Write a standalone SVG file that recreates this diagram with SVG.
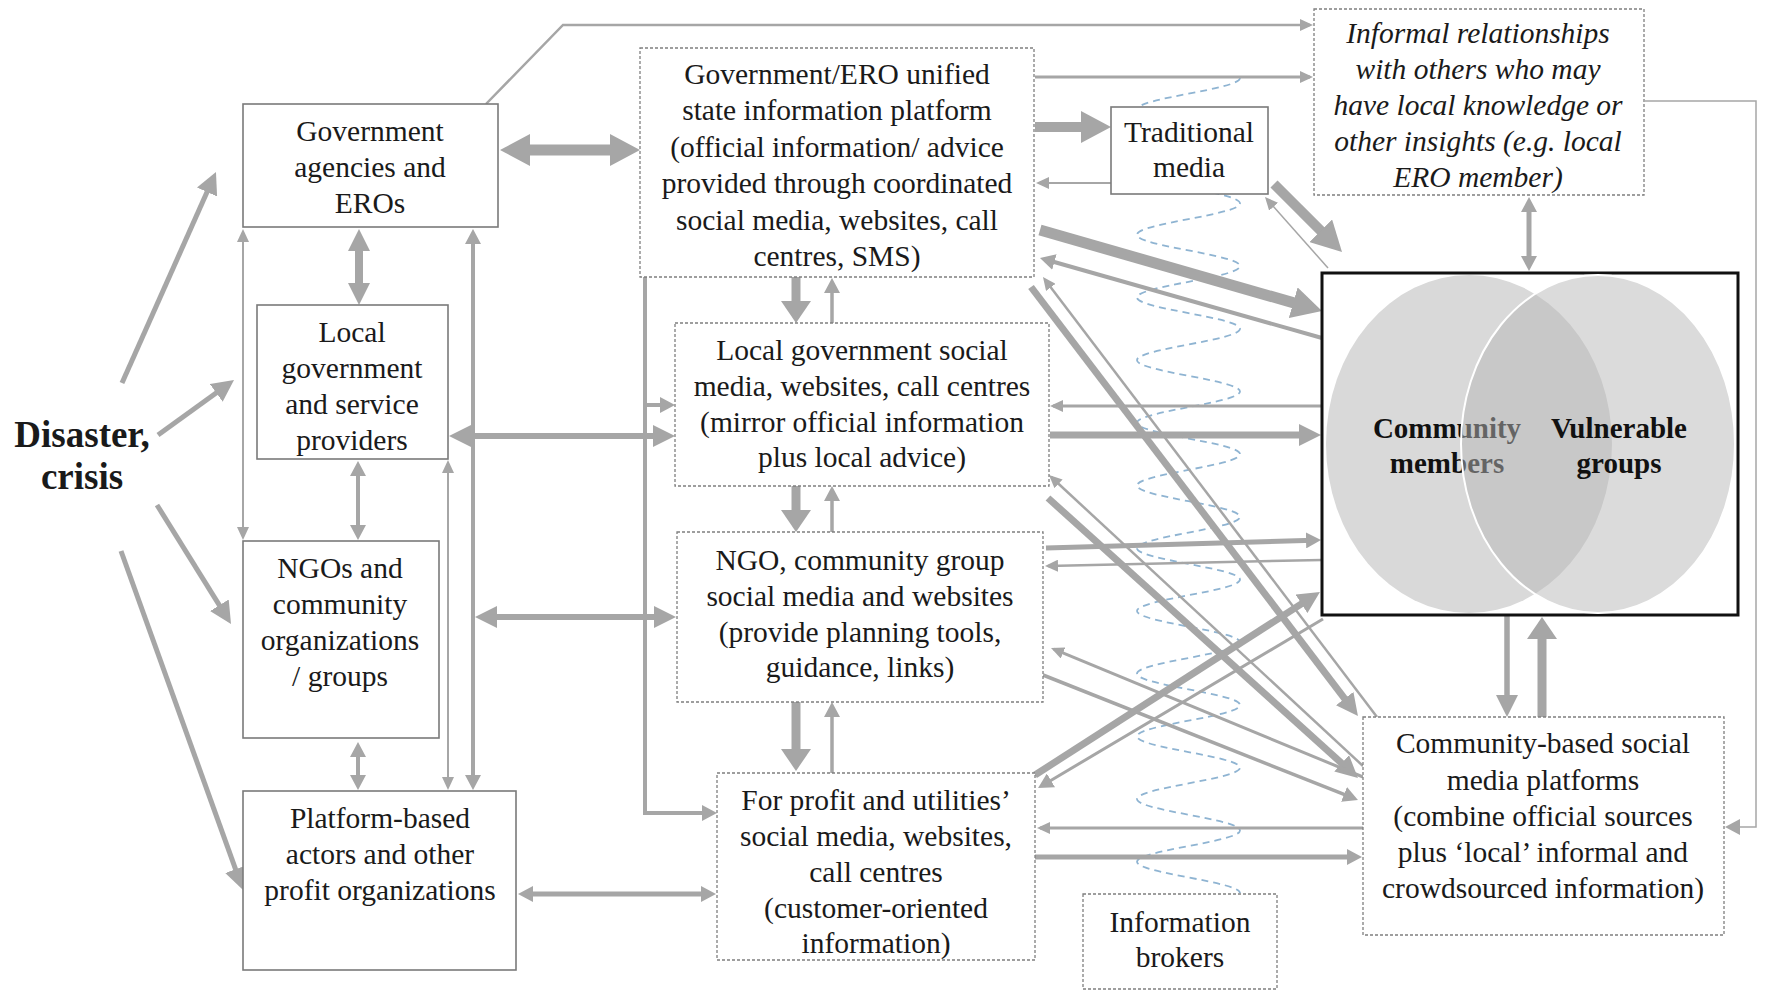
<svg xmlns="http://www.w3.org/2000/svg" width="1767" height="991" viewBox="0 0 1767 991">
<style>
.t{font-family:"Liberation Serif","Times New Roman",serif;font-size:29.5px;fill:#1a1a1a;text-anchor:middle}
.it{font-style:italic}
.b{font-weight:bold}
.big{font-size:37px}
.venn{font-size:29px;fill:#111}
.box{fill:#fff;stroke:#7a7a7a;stroke-width:1.6}
.dbox{fill:#fff;stroke:#7f7f7f;stroke-width:1.3;stroke-dasharray:3 2}
.c{fill:none;stroke:#a6a6a6;stroke-linejoin:miter}
.wave{fill:none;stroke:#8fb4d2;stroke-width:1.8;stroke-dasharray:7 5}
</style>
<defs>
<marker id="as" markerUnits="userSpaceOnUse" viewBox="0 0 13 12" markerWidth="13" markerHeight="12" refX="10" refY="6" orient="auto-start-reverse"><path d="M0,0 L13,6 L0,12 z" fill="#a6a6a6"/></marker>
<marker id="am" markerUnits="userSpaceOnUse" viewBox="0 0 15 16" markerWidth="15" markerHeight="16" refX="7.5" refY="8" orient="auto-start-reverse"><path d="M0,0 L15,8 L0,16 z" fill="#a6a6a6"/></marker>
<marker id="al" markerUnits="userSpaceOnUse" viewBox="0 0 22 22" markerWidth="22" markerHeight="22" refX="11" refY="11" orient="auto-start-reverse"><path d="M0,0 L22,11 L0,22 z" fill="#a6a6a6"/></marker>
<marker id="av" markerUnits="userSpaceOnUse" viewBox="0 0 22 30" markerWidth="22" markerHeight="30" refX="11" refY="15" orient="auto-start-reverse"><path d="M0,0 L22,15 L0,30 z" fill="#a6a6a6"/></marker>
<marker id="ax" markerUnits="userSpaceOnUse" viewBox="0 0 30 32" markerWidth="30" markerHeight="32" refX="15" refY="16" orient="auto-start-reverse"><path d="M0,0 L30,16 L0,32 z" fill="#a6a6a6"/></marker>
</defs>
<rect width="1767" height="991" fill="#fff"/>

<g id="wave">
<path class="wave" d="M1240,78 C1240,89.4 1137,98 1137,109.35 S1240,129.3 1240,140.7 S1137,160.65 1137,172.05 S1240,192 1240,203.4 S1137,223.35 1137,234.75 S1240,254.7 1240,266.1 S1137,286.05 1137,297.45 S1240,317.4 1240,328.8 S1137,348.75 1137,360.15 S1240,380.1 1240,391.5 S1137,411.45 1137,422.85 S1240,442.8 1240,454.2 S1137,474.15 1137,485.55 S1240,505.5 1240,516.9 S1137,536.85 1137,548.25 S1240,568.2 1240,579.6 S1137,599.55 1137,610.95 S1240,630.9 1240,642.3 S1137,662.25 1137,673.65 S1240,693.6 1240,705 S1137,724.95 1137,736.35 S1240,756.3 1240,767.7 S1137,787.65 1137,799.05 S1240,819 1240,830.4 S1137,850.35 1137,861.75 S1240,881.7 1240,893.1"/>
</g>

<g id="connectors">
<path class="c" stroke-width="5" marker-end="url(#al)" d="M122,383 L211.5,182"/>
<path class="c" stroke-width="5" marker-end="url(#al)" d="M158,435 L225.1,386.4"/>
<path class="c" stroke-width="5" marker-end="url(#al)" d="M157,505 L225.2,614.6"/>
<path class="c" stroke-width="5" marker-end="url(#al)" d="M121,551 L239.3,879.6"/>
<path class="c" stroke-width="8" marker-start="url(#al)" marker-end="url(#al)" d="M359,240 L359,294"/>
<path class="c" stroke-width="4" marker-start="url(#am)" marker-end="url(#am)" d="M358,468.5 L358,532.5"/>
<path class="c" stroke-width="4" marker-start="url(#am)" marker-end="url(#am)" d="M358,749.5 L358,782.5"/>
<path class="c" stroke-width="2" marker-start="url(#as)" marker-end="url(#as)" d="M243,232 L243,537"/>
<path class="c" stroke-width="2" marker-start="url(#as)" marker-end="url(#as)" d="M448,463 L448,787"/>
<path class="c" stroke-width="4" marker-start="url(#am)" marker-end="url(#am)" d="M473,236.5 L473,782.5"/>
<path class="c" stroke-width="11" marker-start="url(#ax)" marker-end="url(#ax)" d="M515,150 L625,150"/>
<path class="c" stroke-width="6" marker-start="url(#al)" marker-end="url(#al)" d="M460,436 L664,436"/>
<path class="c" stroke-width="6" marker-start="url(#al)" marker-end="url(#al)" d="M486,617 L665,617"/>
<path class="c" stroke-width="5" marker-start="url(#am)" marker-end="url(#am)" d="M525.5,894 L708.5,894"/>
<path class="c" stroke-width="2.5" marker-end="url(#as)" d="M486,104 L563,25 L1310,25"/>
<path class="c" stroke-width="4" marker-end="url(#am)" d="M645,277 L645,813 L709.5,813"/>
<path class="c" stroke-width="4" marker-end="url(#am)" d="M645,405 L667.5,405"/>
<path class="c" stroke-width="9" marker-end="url(#av)" d="M796,277 L796,312"/>
<path class="c" stroke-width="3.5" marker-end="url(#am)" d="M832,323 L832,285.5"/>
<path class="c" stroke-width="9" marker-end="url(#av)" d="M796,486 L796,521"/>
<path class="c" stroke-width="3.5" marker-end="url(#am)" d="M832,532 L832,493.5"/>
<path class="c" stroke-width="9" marker-end="url(#av)" d="M796,702 L796,760"/>
<path class="c" stroke-width="3.5" marker-end="url(#am)" d="M832,773 L832,709.5"/>
<path class="c" stroke-width="10" marker-end="url(#ax)" d="M1035,127 L1096,127"/>
<path class="c" stroke-width="2" marker-end="url(#as)" d="M1111,183 L1039,183"/>
<path class="c" stroke-width="3" marker-end="url(#as)" d="M1035,77 L1310,77"/>
<path class="c" stroke-width="10" marker-end="url(#ax)" d="M1274,184 L1331.4,241.4"/>
<path class="c" stroke-width="1.5" marker-end="url(#as)" d="M1328,268 L1267,199.2"/>
<path class="c" stroke-width="5" marker-start="url(#am)" marker-end="url(#am)" d="M1529,204.5 L1529,263.5"/>
<path class="c" stroke-width="1.5" marker-end="url(#am)" d="M1645,101 L1756,101 L1756,827 L1732.5,827"/>
<path class="c" stroke-width="5.5" marker-end="url(#al)" d="M1507,616 L1507,706"/>
<path class="c" stroke-width="9" marker-end="url(#av)" d="M1542,717 L1542,628"/>
<path class="c" stroke-width="11" marker-end="url(#ax)" d="M1040,230 L1307.6,306.9"/>
<path class="c" stroke-width="4" marker-end="url(#am)" d="M1322,338 L1047.2,260"/>
<path class="c" stroke-width="7" marker-end="url(#al)" d="M1031,287 L1351.3,707.3"/>
<path class="c" stroke-width="2.5" marker-end="url(#as)" d="M1377,717 L1044.8,279.4"/>
<path class="c" stroke-width="7" marker-end="url(#al)" d="M1050,435 L1310,435"/>
<path class="c" stroke-width="3" marker-end="url(#as)" d="M1322,406 L1053,406"/>
<path class="c" stroke-width="7" marker-end="url(#al)" d="M1048,498 L1349.8,770.6"/>
<path class="c" stroke-width="2.5" marker-end="url(#as)" d="M1363,766 L1051.2,477"/>
<path class="c" stroke-width="5" marker-end="url(#am)" d="M1046,548 L1313.5,540.2"/>
<path class="c" stroke-width="2.5" marker-end="url(#as)" d="M1322,560 L1048,565.9"/>
<path class="c" stroke-width="3.5" marker-end="url(#am)" d="M1043,675 L1351,797.2"/>
<path class="c" stroke-width="3" marker-end="url(#as)" d="M1363,777 L1053.8,649.1"/>
<path class="c" stroke-width="7" marker-end="url(#al)" d="M1035,775 L1310.7,597.9"/>
<path class="c" stroke-width="3" marker-end="url(#am)" d="M1323,619 L1044.5,784.2"/>
<path class="c" stroke-width="3" marker-end="url(#as)" d="M1363,828 L1040,828"/>
<path class="c" stroke-width="5" marker-end="url(#am)" d="M1035,857 L1354.5,857"/>
</g>

<g id="disaster">
<text class="t b big" x="82" y="447">Disaster,</text>
<text class="t b big" x="82" y="489">crisis</text>
</g>

<g id="gov-agencies">
<rect class="box" x="243" y="104" width="255" height="123"/>
<text class="t" x="370" y="141">Government</text>
<text class="t" x="370" y="177">agencies and</text>
<text class="t" x="370" y="213">EROs</text>
</g>

<g id="local-gov">
<rect class="box" x="257" y="305" width="191" height="154"/>
<text class="t" x="352" y="342">Local</text>
<text class="t" x="352" y="378">government</text>
<text class="t" x="352" y="414">and service</text>
<text class="t" x="352" y="450">providers</text>
</g>

<g id="ngos">
<rect class="box" x="243" y="541" width="196" height="197"/>
<text class="t" x="340" y="578">NGOs and</text>
<text class="t" x="340" y="614">community</text>
<text class="t" x="340" y="650">organizations</text>
<text class="t" x="340" y="686">/ groups</text>
</g>

<g id="platform-actors">
<rect class="box" x="243" y="791" width="273" height="179"/>
<text class="t" x="380" y="828">Platform-based</text>
<text class="t" x="380" y="864">actors and other</text>
<text class="t" x="380" y="900">profit organizations</text>
</g>

<g id="gov-ero-platform">
<rect class="dbox" x="640" y="48" width="394" height="229"/>
<text class="t" x="837" y="84">Government/ERO unified</text>
<text class="t" x="837" y="120.4">state information platform</text>
<text class="t" x="837" y="156.8">(official information/ advice</text>
<text class="t" x="837" y="193.2">provided through coordinated</text>
<text class="t" x="837" y="229.6">social media, websites, call</text>
<text class="t" x="837" y="266">centres, SMS)</text>
</g>

<g id="traditional-media">
<rect class="box" x="1111" y="107" width="157" height="87"/>
<text class="t" x="1189" y="142">Traditional</text>
<text class="t" x="1189" y="177">media</text>
</g>

<g id="informal">
<rect class="dbox" x="1314" y="9" width="330" height="186"/>
<text class="t it" x="1478" y="43">Informal relationships</text>
<text class="t it" x="1478" y="79">with others who may</text>
<text class="t it" x="1478" y="115">have local knowledge or</text>
<text class="t it" x="1478" y="151">other insights (e.g. local</text>
<text class="t it" x="1478" y="187">ERO member)</text>
</g>

<g id="local-gov-social">
<rect class="dbox" x="675" y="323" width="374" height="163"/>
<text class="t" x="862" y="360">Local government social</text>
<text class="t" x="862" y="396">media, websites, call centres</text>
<text class="t" x="862" y="432">(mirror official information</text>
<text class="t" x="862" y="467">plus local advice)</text>
</g>

<g id="ngo-social">
<rect class="dbox" x="677" y="532" width="366" height="170"/>
<text class="t" x="860" y="570">NGO, community group</text>
<text class="t" x="860" y="606">social media and websites</text>
<text class="t" x="860" y="642">(provide planning tools,</text>
<text class="t" x="860" y="677">guidance, links)</text>
</g>

<g id="for-profit">
<rect class="dbox" x="717" y="773" width="318" height="187"/>
<text class="t" x="876" y="810">For profit and utilities’</text>
<text class="t" x="876" y="846">social media, websites,</text>
<text class="t" x="876" y="882">call centres</text>
<text class="t" x="876" y="918">(customer-oriented</text>
<text class="t" x="876" y="953">information)</text>
</g>

<g id="info-brokers">
<rect class="dbox" x="1083" y="894" width="194" height="95"/>
<text class="t" x="1180" y="932">Information</text>
<text class="t" x="1180" y="967">brokers</text>
</g>

<g id="community-venn">
<rect x="1322" y="273" width="416" height="342" fill="#fff" stroke="#111" stroke-width="3"/>
<ellipse cx="1469" cy="444" rx="143" ry="169" fill="#d9d9d9"/>
<text class="t b venn" x="1447" y="438">Community</text>
<text class="t b venn" x="1447" y="473">members</text>
<ellipse cx="1598" cy="444" rx="137" ry="169" fill="#b8b8b8" fill-opacity="0.5" stroke="#fff" stroke-width="2"/>
<text class="t b venn" x="1619" y="438">Vulnerable</text>
<text class="t b venn" x="1619" y="473">groups</text>
</g>

<g id="community-platforms">
<rect class="dbox" x="1363" y="717" width="361" height="218"/>
<text class="t" x="1543" y="753">Community-based social</text>
<text class="t" x="1543" y="790">media platforms</text>
<text class="t" x="1543" y="826">(combine official sources</text>
<text class="t" x="1543" y="862">plus ‘local’ informal and</text>
<text class="t" x="1543" y="898">crowdsourced information)</text>
</g>
</svg>
